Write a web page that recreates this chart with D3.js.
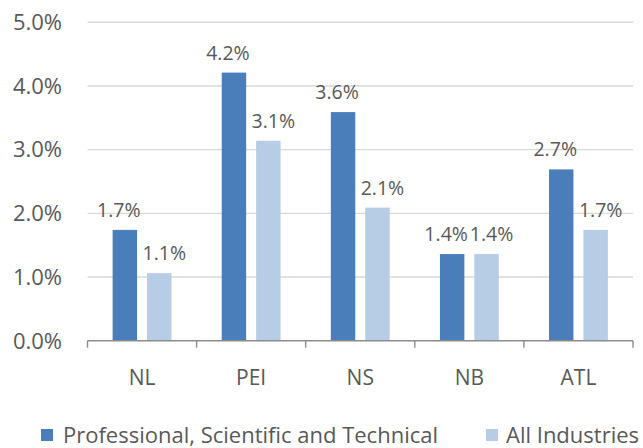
<!DOCTYPE html>
<html><head><meta charset="utf-8">
<script src="https://cdn.jsdelivr.net/npm/d3@7"></script>
<style>body{margin:0;background:#fff}svg{display:block}</style></head>
<body><svg id="chart" width="643" height="448"></svg>
<script>
// Regions along the x axis
const categories = ["NL", "PEI", "NS", "NB", "ATL"];
// Series names (legend order)
const seriesNames = ["Professional, Scientific and Technical", "All Industries"];
// Values in percent, one entry per region
const professionalValues = [1.74, 4.21, 3.59, 1.36, 2.69];
const allIndustriesValues = [1.06, 3.14, 2.09, 1.36, 1.74];
// Y axis ticks in percent
const yTicks = [0, 1, 2, 3, 4, 5];

const colors = ["#4a7ebb", "#b7cce5"];
const textColor = "#595959";
const font = "Open Sans";

const rows = categories.map((c, i) => ({
  cat: c,
  vals: [
    { s: 0, v: professionalValues[i] },
    { s: 1, v: allIndustriesValues[i] }
  ]
}));

const svg = d3.select("#chart");

const y = d3.scaleLinear().domain([0, 5]).range([340.7, 22.3]);
const x0 = d3.scaleBand().domain(categories).range([87.5, 633]).padding(0);
const x1 = d3.scaleBand().domain([0, 1]).range([0, x0.bandwidth()])
  .paddingInner(0.29).paddingOuter(0.73);

// Horizontal gridlines
svg.append("g").selectAll("line")
  .data(yTicks.filter(t => t > 0))
  .join("line")
  .attr("x1", 87.5).attr("x2", 633)
  .attr("y1", d => y(d)).attr("y2", d => y(d))
  .attr("stroke", "#d9d9d9").attr("stroke-width", 1.4);

// Y tick labels
svg.append("g").selectAll("text")
  .data(yTicks)
  .join("text")
  .attr("x", 62).attr("y", d => y(d) + 7.8)
  .attr("text-anchor", "end")
  .attr("font-family", font).attr("font-size", 22)
  .attr("fill", textColor)
  .text(d => d3.format(".1f")(d) + "%");

// Bars
const groups = svg.append("g").selectAll("g")
  .data(rows)
  .join("g")
  .attr("transform", d => `translate(${x0(d.cat)},0)`);

groups.selectAll("rect")
  .data(d => d.vals)
  .join("rect")
  .attr("x", d => x1(d.s))
  .attr("width", x1.bandwidth())
  .attr("y", d => y(d.v))
  .attr("height", d => y(0) - y(d.v))
  .attr("fill", d => colors[d.s]);

// Value labels above bars
groups.selectAll("text")
  .data(d => d.vals)
  .join("text")
  .attr("x", d => x1(d.s) + x1.bandwidth() / 2 + (d.s === 0 ? -6 : 5))
  .attr("y", d => y(d.v) - 13)
  .attr("text-anchor", "middle")
  .attr("font-family", font).attr("font-size", 19.5)
  .attr("fill", textColor)
  .text(d => d3.format(".1f")(d.v) + "%");

// Category axis
const xAxis = svg.append("g").attr("transform", `translate(0,${y(0)})`);
xAxis.append("line")
  .attr("x1", 87.5).attr("x2", 633)
  .attr("stroke", "#8c8c8c").attr("stroke-width", 1.4);
const boundaries = categories.map(c => x0(c)).concat([x0.range()[1]]);
xAxis.selectAll("line.tick")
  .data(boundaries)
  .join("line")
  .attr("class", "tick")
  .attr("x1", d => d).attr("x2", d => d)
  .attr("y1", 0).attr("y2", 7)
  .attr("stroke", "#8c8c8c").attr("stroke-width", 1.4);
xAxis.selectAll("text")
  .data(categories)
  .join("text")
  .attr("x", d => x0(d) + x0.bandwidth() / 2)
  .attr("y", 44.5)
  .attr("text-anchor", "middle")
  .attr("font-family", font).attr("font-size", 21)
  .attr("fill", textColor)
  .text(d => d);

// Legend
const legendX = [41, 486];
const legend = svg.append("g").selectAll("g")
  .data(seriesNames)
  .join("g")
  .attr("transform", (d, i) => `translate(${legendX[i]},429)`);
legend.append("rect")
  .attr("width", 12).attr("height", 12)
  .attr("fill", (d, i) => colors[i]);
legend.append("text")
  .attr("x", (d, i) => i === 0 ? 22 : 20)
  .attr("y", 14)
  .attr("font-family", font).attr("font-size", 22)
  .attr("fill", textColor)
  .text(d => d);
</script></body></html>
